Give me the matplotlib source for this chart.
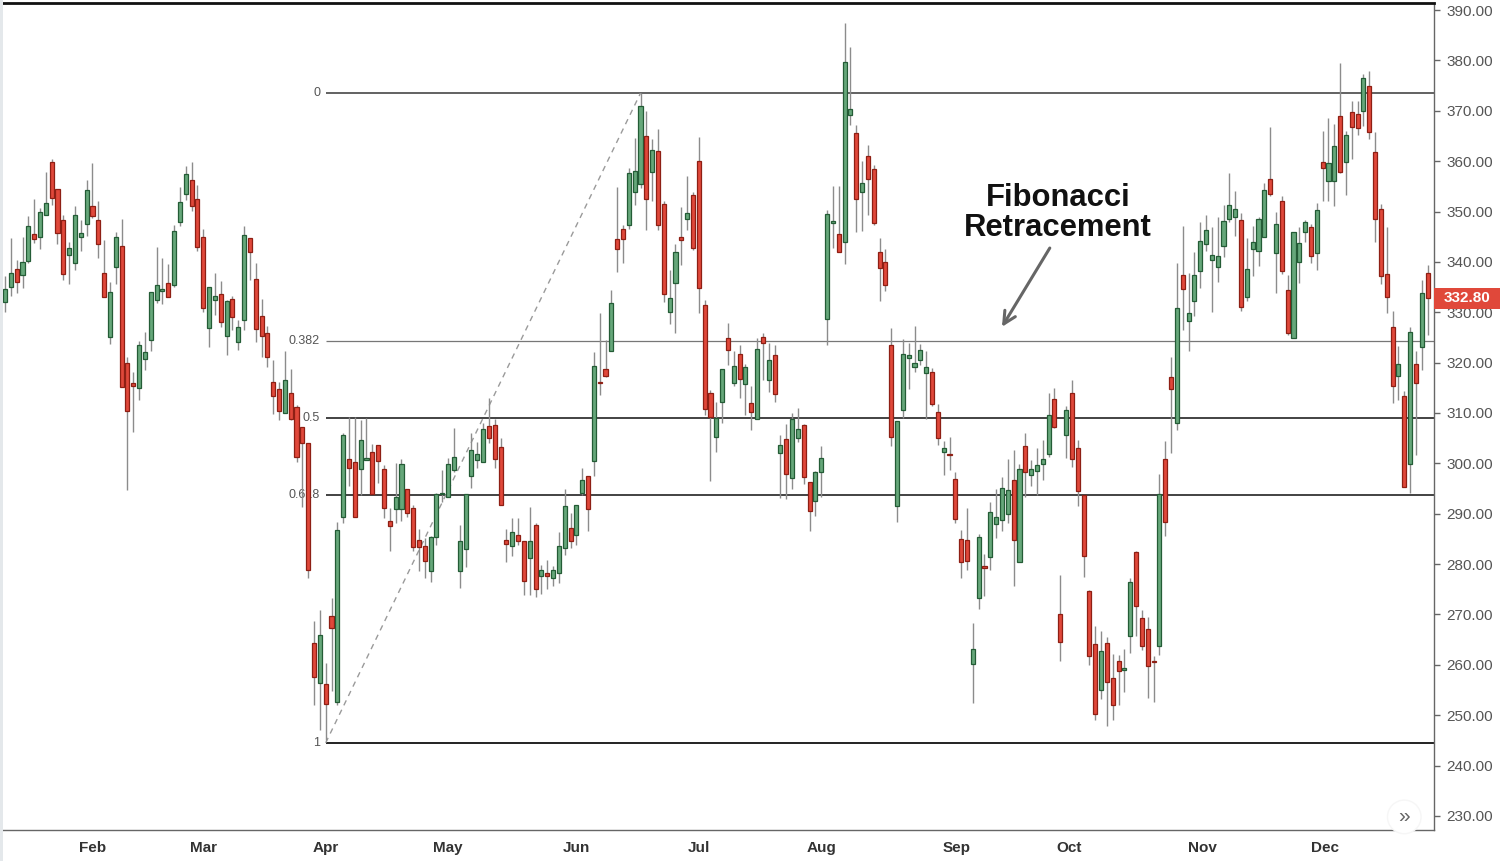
import matplotlib
matplotlib.use("Agg")
import matplotlib.pyplot as plt
from matplotlib.patches import Rectangle
from matplotlib.transforms import blended_transform_factory
from matplotlib.ticker import FormatStrFormatter

plt.rcParams['font.family'] = ['Liberation Sans', 'DejaVu Sans']

# ---------------- data ----------------
opens = [332.1, 335.1, 338.5, 337.3, 340.2, 345.5, 344.9, 349.4, 359.8, 354.5,
         348.3, 341.4, 339.7, 345.0, 347.5, 351.0, 348.4, 337.8, 325.0, 338.9,
         343.2, 319.9, 315.9, 314.9, 320.7, 324.4, 332.4, 334.3, 335.9, 335.4,
         347.9, 353.4, 356.2, 352.5, 344.9, 326.9, 332.4, 333.7, 325.3, 332.7,
         324.0, 328.4, 344.7, 336.6, 329.2, 325.8, 316.2, 314.7, 310.0, 313.9,
         311.1, 307.3, 304.0, 264.4, 256.3, 256.2, 269.7, 252.7, 289.3, 300.8,
         300.2, 298.9, 300.7, 302.2, 303.7, 298.9, 288.6, 291.0, 291.0, 295.0,
         291.2, 284.8, 283.5, 278.6, 285.3, 293.9, 293.3, 298.6, 278.6, 283.0,
         297.4, 300.6, 300.2, 307.4, 307.6, 303.2, 284.8, 283.6, 285.8, 284.6,
         281.2, 287.7, 277.6, 278.3, 277.3, 278.3, 283.2, 287.1, 285.7, 294.2,
         297.5, 300.4, 316.2, 318.8, 322.3, 344.5, 346.6, 347.4, 353.8, 355.4,
         365.0, 357.9, 362.0, 351.5, 330.0, 335.9, 344.9, 348.6, 353.3, 360.1,
         331.5, 313.9, 305.3, 312.1, 324.8, 316.0, 321.7, 315.7, 312.0, 308.9,
         325.1, 316.5, 321.5, 302.1, 304.8, 297.0, 305.1, 307.6, 296.2, 292.5,
         298.3, 328.6, 347.8, 345.5, 344.0, 369.1, 365.6, 353.9, 361.1, 358.4,
         342.0, 340.0, 323.5, 291.6, 310.6, 320.9, 319.1, 320.5, 317.9, 318.2,
         310.1, 302.2, 301.8, 296.9, 285.0, 284.7, 260.1, 273.2, 279.5, 281.4,
         287.9, 288.7, 289.9, 296.7, 280.4, 303.5, 297.6, 298.4, 299.8, 301.8,
         312.8, 270.1, 305.7, 313.9, 303.1, 293.8, 274.6, 264.2, 255.0, 264.4,
         257.3, 260.8, 258.9, 265.7, 282.3, 269.2, 267.2, 260.8, 263.7, 300.8,
         317.1, 308.1, 337.4, 328.3, 332.3, 338.1, 343.6, 340.4, 338.9, 343.2,
         348.5, 349.0, 348.3, 333.1, 342.6, 342.2, 345.0, 356.4, 341.7, 352.0,
         334.4, 324.9, 339.9, 345.9, 346.9, 341.7, 359.8, 356.0, 356.0, 369.0,
         359.8, 369.8, 369.3, 370.0, 374.9, 361.9, 350.5, 337.6, 327.0, 317.4,
         313.4, 299.9, 319.7, 323.1, 337.8]
highs = [337.1, 344.8, 340.4, 345.0, 349.1, 352.4, 350.6, 357.8, 360.4, 354.5,
         349.3, 344.0, 351.0, 348.3, 356.3, 359.7, 352.0, 344.3, 336.1, 345.9,
         348.6, 321.1, 318.1, 324.2, 326.0, 334.1, 343.0, 340.7, 339.6, 347.3,
         354.9, 359.0, 359.9, 355.3, 346.5, 335.1, 337.7, 336.3, 332.4, 333.2,
         328.4, 347.1, 344.7, 339.7, 332.7, 327.3, 320.6, 316.1, 322.3, 318.7,
         311.6, 307.3, 304.0, 268.7, 270.9, 260.3, 273.3, 288.4, 306.1, 309.3,
         309.3, 308.6, 309.0, 303.8, 303.7, 299.6, 291.1, 300.0, 300.9, 295.0,
         291.8, 286.9, 285.1, 285.5, 294.1, 298.7, 301.0, 307.0, 287.8, 293.9,
         306.0, 304.3, 308.0, 312.9, 308.8, 305.0, 286.9, 289.1, 289.1, 284.6,
         291.4, 288.1, 279.8, 280.9, 279.6, 286.3, 295.0, 290.2, 291.7, 299.0,
         297.5, 322.1, 329.9, 324.5, 334.5, 354.9, 347.3, 358.7, 364.6, 373.6,
         369.9, 364.3, 366.3, 352.1, 338.4, 343.5, 350.8, 357.0, 353.9, 364.8,
         332.4, 314.6, 312.2, 318.8, 327.9, 322.3, 323.5, 319.8, 315.3, 324.9,
         325.8, 323.8, 323.5, 305.7, 307.9, 309.9, 310.9, 307.9, 296.2, 298.5,
         303.4, 350.3, 355.1, 355.1, 387.5, 382.6, 367.2, 360.0, 363.3, 359.2,
         344.7, 342.5, 326.8, 308.4, 324.7, 323.8, 327.3, 323.7, 322.3, 318.9,
         311.7, 304.5, 305.2, 298.2, 286.8, 291.1, 268.3, 286.0, 282.0, 292.4,
         294.9, 297.3, 300.9, 302.7, 299.9, 306.0, 300.6, 303.0, 304.7, 313.9,
         314.9, 277.9, 311.4, 316.6, 304.6, 293.8, 274.8, 267.7, 266.7, 265.6,
         262.2, 261.9, 263.2, 277.3, 282.6, 270.8, 269.5, 261.8, 297.8, 304.4,
         321.1, 339.7, 347.2, 337.8, 341.9, 348.0, 349.3, 347.0, 349.0, 351.3,
         357.7, 354.0, 349.8, 344.7, 347.2, 349.0, 355.6, 366.7, 349.9, 353.1,
         337.4, 346.0, 347.0, 348.3, 347.5, 351.6, 366.0, 368.5, 367.4, 379.4,
         365.9, 372.0, 372.0, 377.4, 377.9, 365.7, 351.5, 346.9, 330.3, 323.3,
         314.3, 327.0, 322.3, 336.4, 339.3]
lows = [330.1, 333.3, 333.8, 334.9, 339.8, 343.7, 342.6, 349.4, 351.3, 343.6,
        336.4, 335.7, 338.3, 342.2, 345.2, 348.8, 340.7, 333.0, 323.6, 335.7,
        315.1, 294.7, 306.2, 312.6, 318.5, 322.4, 331.8, 331.6, 333.1, 335.1,
        347.2, 352.3, 350.1, 342.2, 330.1, 323.0, 329.4, 327.1, 321.6, 326.5,
        322.5, 326.5, 336.4, 324.0, 321.2, 319.2, 309.7, 308.6, 310.0, 308.6,
        300.3, 291.4, 277.2, 252.0, 247.0, 245.1, 254.7, 252.0, 288.2, 295.6,
        289.4, 293.7, 300.7, 293.9, 296.1, 289.2, 282.5, 288.2, 288.6, 289.4,
        282.5, 278.6, 277.3, 276.5, 283.8, 292.4, 293.3, 298.2, 275.3, 279.5,
        295.2, 299.0, 300.2, 304.1, 299.0, 291.8, 280.5, 281.7, 283.8, 273.9,
        273.9, 273.5, 274.0, 275.0, 275.6, 276.3, 281.8, 283.1, 283.8, 293.7,
        286.6, 297.5, 313.5, 317.2, 322.3, 338.0, 339.8, 346.6, 351.3, 354.6,
        346.3, 352.1, 346.3, 332.1, 327.6, 325.9, 339.4, 346.3, 342.3, 329.8,
        309.6, 296.5, 302.3, 308.1, 319.5, 315.3, 313.0, 309.6, 306.6, 308.9,
        316.5, 314.2, 312.1, 293.2, 292.9, 295.0, 304.2, 295.8, 286.6, 289.5,
        293.4, 323.5, 342.8, 342.0, 339.5, 367.2, 346.0, 346.1, 349.3, 347.3,
        332.3, 334.2, 303.5, 288.3, 309.0, 314.8, 318.2, 319.5, 308.8, 311.3,
        303.7, 297.7, 298.7, 288.1, 277.2, 278.9, 252.4, 271.1, 273.6, 278.9,
        285.2, 286.5, 288.1, 275.6, 280.4, 293.4, 295.5, 293.8, 296.6, 301.2,
        307.0, 260.7, 301.0, 299.2, 291.5, 277.5, 259.9, 249.0, 253.3, 247.8,
        249.0, 252.1, 254.6, 262.4, 265.7, 263.0, 253.4, 252.6, 262.0, 285.6,
        302.0, 306.7, 326.5, 322.3, 329.2, 334.8, 342.1, 330.1, 336.1, 340.9,
        348.0, 345.2, 330.3, 332.3, 337.1, 339.1, 345.0, 353.0, 333.8, 337.6,
        325.5, 324.9, 335.8, 344.0, 339.7, 338.4, 352.1, 352.1, 351.0, 357.6,
        353.2, 360.4, 365.2, 366.9, 364.4, 344.0, 335.6, 329.8, 311.9, 312.5,
        295.3, 294.1, 301.7, 318.6, 325.5]
closes = [334.7, 337.7, 336.1, 339.9, 347.1, 344.5, 350.0, 351.6, 352.6, 345.7,
          337.5, 342.8, 349.4, 345.7, 354.2, 349.1, 343.6, 333.0, 334.0, 344.9,
          315.1, 310.3, 315.4, 323.4, 322.2, 334.0, 335.5, 334.7, 333.1, 346.1,
          351.9, 357.4, 351.0, 343.0, 330.8, 335.1, 333.3, 328.1, 332.2, 329.0,
          327.1, 345.3, 341.9, 326.6, 325.3, 321.2, 313.4, 310.4, 316.5, 308.9,
          301.3, 304.1, 278.9, 257.6, 266.0, 252.3, 267.4, 286.8, 305.6, 299.1,
          289.4, 304.6, 301.0, 293.9, 300.4, 291.2, 287.6, 293.3, 299.9, 290.1,
          283.4, 283.3, 280.6, 285.3, 293.9, 294.1, 299.9, 301.2, 284.5, 293.9,
          302.6, 301.8, 306.8, 305.0, 300.8, 291.8, 284.0, 286.4, 284.5, 276.7,
          284.5, 275.0, 278.9, 277.6, 278.8, 283.6, 291.5, 284.6, 291.7, 296.7,
          291.0, 319.4, 315.9, 317.4, 331.9, 342.5, 344.6, 357.7, 358.0, 370.9,
          352.5, 362.2, 347.4, 333.6, 332.9, 341.9, 344.3, 349.8, 342.8, 334.9,
          310.8, 309.3, 309.1, 318.8, 322.5, 319.3, 316.7, 319.2, 310.2, 322.8,
          323.8, 320.6, 313.7, 303.6, 297.8, 308.9, 306.9, 297.3, 290.5, 298.3,
          301.0, 349.5, 348.2, 342.0, 379.6, 370.3, 352.4, 355.6, 356.4, 347.8,
          338.7, 335.5, 305.3, 308.4, 321.7, 321.5, 320.0, 322.6, 319.2, 311.7,
          305.0, 303.0, 301.6, 288.9, 280.5, 280.7, 263.2, 285.4, 279.3, 290.4,
          289.3, 295.1, 294.7, 284.8, 298.9, 298.2, 298.9, 299.6, 300.9, 309.5,
          307.3, 264.6, 310.6, 300.8, 294.5, 281.6, 261.8, 250.3, 262.7, 256.6,
          252.1, 258.7, 259.4, 276.5, 271.6, 263.7, 259.8, 260.6, 294.0, 288.3,
          314.7, 330.8, 334.6, 329.9, 337.3, 344.2, 346.4, 341.4, 341.1, 348.1,
          351.3, 350.5, 331.1, 338.6, 344.0, 348.5, 354.3, 353.4, 347.5, 338.1,
          325.8, 345.9, 343.8, 347.9, 341.2, 350.3, 358.6, 359.6, 363.0, 357.9,
          365.1, 366.7, 366.5, 376.6, 365.7, 348.5, 337.1, 333.0, 315.4, 319.7,
          295.3, 326.0, 315.9, 333.8, 332.8]

month_labels = ["Feb", "Mar", "Apr", "May", "Jun", "Jul", "Aug", "Sep", "Oct", "Nov", "Dec"]
month_pos = [15, 34, 55, 76, 98, 119, 140, 163.3, 182.5, 205.3, 226.4]

y_ticks = [230, 240, 250, 260, 270, 280, 290, 300, 310, 320, 330, 340, 350, 360, 370, 380, 390]

fib_ratios = [0, 0.382, 0.5, 0.618, 1]
fib_labels = ["0", "0.382", "0.5", "0.618", "1"]
fib_high = 373.5
fib_low = 244.5
fib_low_idx = 55
fib_high_idx = 109

last_price = 332.80

# ---------------- figure ----------------
fig = plt.figure(figsize=(15, 8.61), dpi=100)
fig.patch.set_facecolor('white')
ax = fig.add_axes([0, 31 / 861, 1434 / 1500, 827 / 861])
ax.set_facecolor('white')

n = len(opens)
xs = list(range(n))

up_fill, up_edge = '#66a77a', '#245c36'
dn_fill, dn_edge = '#e0483a', '#8e1f14'

# wicks
ax.vlines(xs, lows, highs, colors='#8c8c8c', linewidth=1.0, zorder=3)
# bodies
bottoms = [min(o, c) for o, c in zip(opens, closes)]
heights = [max(abs(c - o), 0.25) for o, c in zip(opens, closes)]
fills = [up_fill if c >= o else dn_fill for o, c in zip(opens, closes)]
edges = [up_edge if c >= o else dn_edge for o, c in zip(opens, closes)]
ax.bar(xs, heights, bottom=bottoms, width=0.7, color=fills, edgecolor=edges,
       linewidth=0.9, zorder=4)

# fibonacci levels
fib_colors = ['#555555', '#777777', '#222222', '#222222', '#111111']
fib_lw = [1.3, 0.9, 1.2, 1.2, 1.3]
x_right = n + 0.1
for r, lab, col, lw in zip(fib_ratios, fib_labels, fib_colors, fib_lw):
    lvl = fib_high - r * (fib_high - fib_low)
    ax.plot([fib_low_idx, x_right], [lvl, lvl], color=col, linewidth=lw, zorder=2,
            solid_capstyle='butt')
    ax.annotate(lab, xy=(fib_low_idx, lvl), xytext=(-4, 0), textcoords='offset points',
                ha='right', va='center', fontsize=9, color='#555555', zorder=1)

# dashed trend line
ax.plot([fib_low_idx, fib_high_idx], [fib_low, fib_high], color='#9a9a9a',
        linewidth=1.0, dashes=(4, 3.5), zorder=2)

# annotation
ax.annotate('', xy=(171.0, 327.1), xytext=(179.2, 342.75),
            arrowprops=dict(arrowstyle='->', color='#666666', lw=2.2, mutation_scale=22,
                            shrinkA=0, shrinkB=0), zorder=6)
ax.text(180.6, 349.7, 'Fibonacci\nRetracement', ha='center', va='center',
        fontsize=22.3, fontweight='bold', linespacing=1.0, color='#111111', zorder=6)

# scroll button
ax.text(240.0, 229.8, '»', ha='center', va='center', fontsize=15, color='#666666',
        bbox=dict(boxstyle='circle,pad=0.35', fc='white', ec='#f6f6f6', lw=1), zorder=7)

# axes
ax.set_xlim(-0.86, 245.1)
ax.set_ylim(227.2, 391.4)
ax.yaxis.tick_right()
ax.set_yticks(y_ticks)
ax.yaxis.set_major_formatter(FormatStrFormatter('%.2f'))
ax.tick_params(axis='y', direction='out', length=4, width=1, color='#666666',
               labelsize=11, labelcolor='#555555', pad=5)
ax.set_xticks(month_pos)
ax.set_xticklabels(month_labels)
ax.tick_params(axis='x', length=0, labelsize=11, labelcolor='#333333', pad=8)
for t in ax.get_xticklabels():
    t.set_fontweight('bold')

ax.spines['left'].set_visible(False)
ax.spines['top'].set_color('#111111')
ax.spines['top'].set_linewidth(2)
ax.spines['right'].set_color('#666666')
ax.spines['right'].set_linewidth(1)
ax.spines['bottom'].set_color('#666666')
ax.spines['bottom'].set_linewidth(1)

# current price tag
trans = blended_transform_factory(ax.transAxes, ax.transData)
tag_w = 66 / 1434
tag_h = 21 / 5.0375
ax.add_patch(Rectangle((1.0, last_price - tag_h / 2), tag_w, tag_h, transform=trans,
                       facecolor='#e0483a', edgecolor='none', clip_on=False, zorder=8))
ax.text(1.0 + tag_w / 2, last_price, f'{last_price:.2f}', transform=trans,
        ha='center', va='center', color='white', fontsize=11, fontweight='bold',
        clip_on=False, zorder=9)

# left panel edge
fig.patches.append(Rectangle((0, 0), 3 / 1500, 1, transform=fig.transFigure,
                             facecolor='#e4e8eb', edgecolor='none', zorder=0))

fig.savefig('out.png', dpi=100)
